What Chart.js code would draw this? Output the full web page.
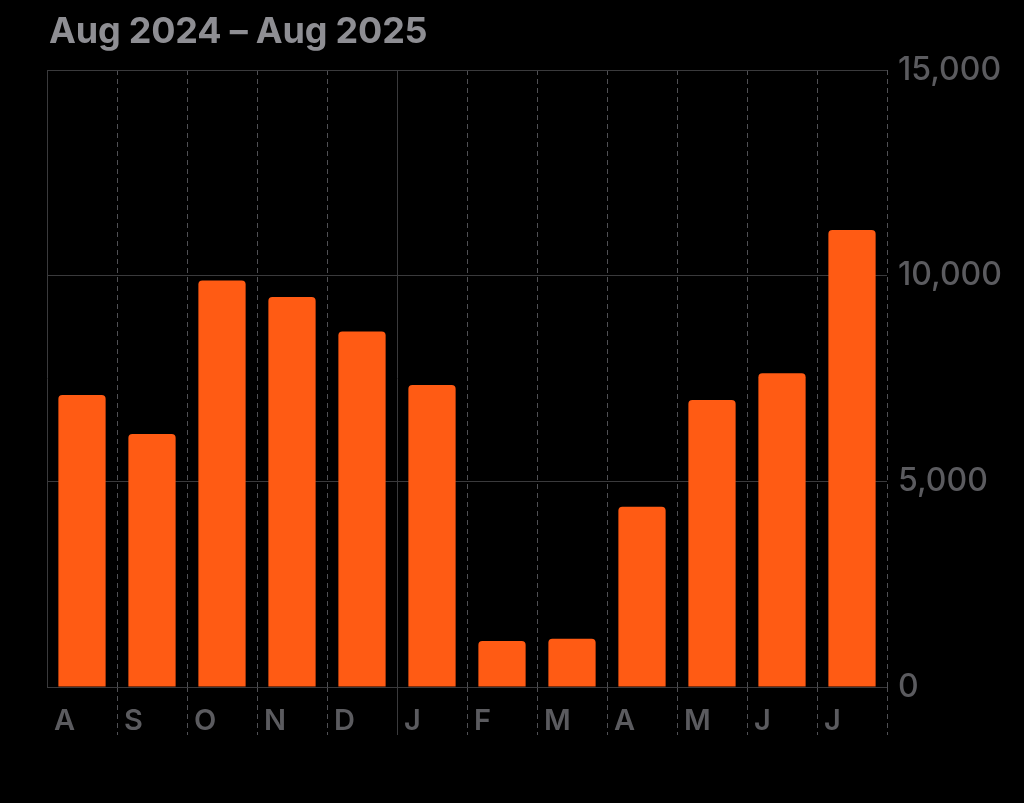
<!DOCTYPE html>
<html>
<head>
<meta charset="utf-8">
<script src="https://cdn.jsdelivr.net/npm/chart.js@4.4.1/dist/chart.umd.min.js"></script>
<style>
  html, body { margin: 0; padding: 0; background: #000; }
  #wrap { position: relative; width: 1024px; height: 803px; overflow: hidden; background: #000; }
  #title { position: absolute; left: 49px; top: 12px; font-family: Inter, "Noto Sans", sans-serif; font-weight: 700; font-size: 36px; line-height: 1; color: #8e8e93; white-space: nowrap; letter-spacing: -0.2px; }
  canvas { position: absolute; left: 0; top: 0; }
</style>
</head>
<body>
<div id="wrap">
  <canvas id="c" width="1024" height="803"></canvas>
  <div id="title">Aug 2024 – Aug 2025</div>
</div>
<script>
const categories = ["A", "S", "O", "N", "D", "J", "F", "M", "A", "M", "J", "J"];
const values = [7100, 6150, 9880, 9480, 8640, 7340, 1120, 1170, 4380, 6980, 7630, 11110];
const yTicks = [0, 5000, 10000, 15000];

const solidIdx = [0, 5];
const gridGray = '#3a3a3c';
const dashGray = '#505054';

new Chart(document.getElementById('c'), {
  type: 'bar',
  data: {
    labels: categories,
    datasets: [{
      data: values,
      backgroundColor: '#ff5b14',
      borderRadius: 4,
      borderSkipped: 'start',
      barPercentage: 0.675,
      categoryPercentage: 1.0
    }]
  },
  options: {
    responsive: false,
    animation: false,
    devicePixelRatio: 1,
    layout: { padding: { left: 47, top: 70, right: 0, bottom: 46 } },
    plugins: { legend: { display: false }, tooltip: { enabled: false }, title: { display: false } },
    scales: {
      x: {
        position: 'bottom',
        offset: true,
        afterFit: s => { s.height = 70; },
        grid: {
          offset: true,
          drawOnChartArea: true,
          drawTicks: true,
          tickLength: 48,
          lineWidth: 1,
          tickWidth: 1,
          color: ctx => (solidIdx.includes(ctx.index) ? gridGray : dashGray),
          tickColor: ctx => (ctx.index === 0 ? 'rgba(0,0,0,0)' : (ctx.index === 5 ? gridGray : dashGray)),
          tickBorderDash: ctx => (solidIdx.includes(ctx.index) ? [] : [5, 4])
        },
        border: {
          display: false,
          dash: ctx => (solidIdx.includes(ctx.index) ? [] : [5, 4])
        },
        ticks: {
          align: 'start',
          labelOffset: -28,
          padding: -31,
          maxRotation: 0,
          autoSkip: false,
          color: '#5b5b5f',
          font: { family: 'Inter', size: 29, weight: '600' }
        }
      },
      y: {
        position: 'right',
        min: 0,
        max: 15000,
        afterFit: s => { s.width = 137; },
        afterBuildTicks: s => { s.ticks = yTicks.map(v => ({ value: v })); },
        grid: { color: gridGray, lineWidth: 1, drawTicks: false },
        border: { display: false },
        ticks: {
          padding: 11,
          color: '#5b5b5f',
          font: { family: 'Inter', size: 32, weight: '500' },
          callback: v => v.toLocaleString('en-US')
        }
      }
    }
  }
});
</script>
</body>
</html>
